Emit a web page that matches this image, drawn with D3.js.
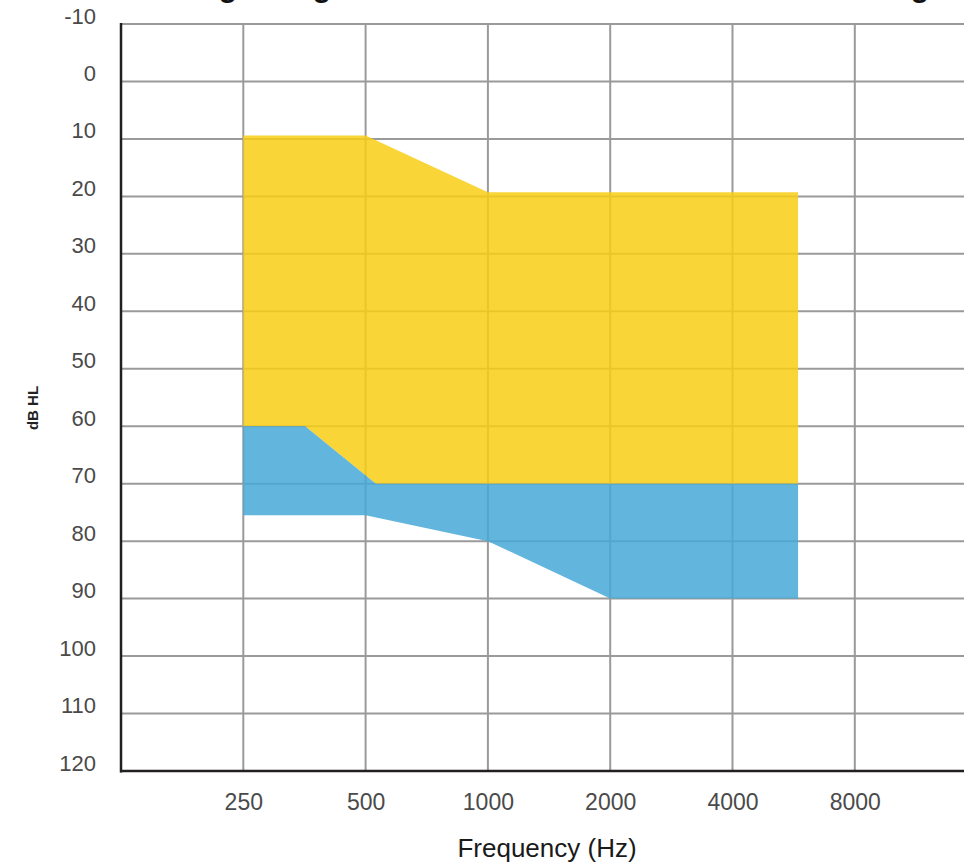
<!DOCTYPE html>
<html>
<head>
<meta charset="utf-8">
<script src="https://cdn.jsdelivr.net/npm/d3@7"></script>
<style>
  html, body { margin: 0; padding: 0; background: #fff; overflow: hidden; }
  svg { display: block; }
</style>
</head>
<body>
<script>
// ---- Data ----
const freqTicks = [250, 500, 1000, 2000, 4000, 8000];
const freqLabels = ["250", "500", "1000", "2000", "4000", "8000"];
const dbTicks = [-10, 0, 10, 20, 30, 40, 50, 60, 70, 80, 90, 100, 110, 120];
const dbLabels = ["-10", "0", "10", "20", "30", "40", "50", "60", "70", "80", "90", "100", "110", "120"];

// Yellow range: upper boundary (freq, dB) and lower boundary
const yellowTop = [[250, 9.4], [500, 9.4], [1000, 19.3], [5800, 19.3]];
const yellowBottom = [[5800, 70], [530, 70], [355, 60], [250, 60]];
// Blue range
const blueTop = [[250, 60], [355, 60], [530, 70], [5800, 70]];
const blueBottom = [[5800, 90], [2000, 90], [1000, 80], [500, 75.5], [250, 75.5]];

const titleText = "Fitting range for moderate to severe hearing loss";
const xTitle = "Frequency (Hz)";
const yTitle = "dB HL";

// ---- Layout ----
const W = 964, H = 866;
const svg = d3.select("body").append("svg").attr("width", W).attr("height", H);

const x = d3.scaleLog().base(2).domain([125, 16000]).range([121, 121 + 7 * 122.3]);
const y = d3.scaleLinear().domain([-10, 120]).range([24, 771]);

const yellowFill = "#f8ce15", blueFill = "#46a8d6";
const area = pts => d3.line().x(d => x(d[0])).y(d => y(d[1]))(pts) + "Z";

// grid (under the semi-transparent fills)
const grid = svg.append("g");
grid.selectAll("line.h").data(dbTicks).join("line")
  .attr("x1", 121).attr("x2", W)
  .attr("y1", d => y(d)).attr("y2", d => y(d))
  .attr("stroke", "#9a9a9a").attr("stroke-width", 2);
grid.selectAll("line.v").data(freqTicks).join("line")
  .attr("x1", d => x(d)).attr("x2", d => x(d))
  .attr("y1", y(-10)).attr("y2", y(120))
  .attr("stroke", "#9a9a9a").attr("stroke-width", 2);

// fills
svg.append("path").attr("d", area(yellowTop.concat(yellowBottom)))
  .attr("fill", yellowFill).attr("fill-opacity", 0.85);
svg.append("path").attr("d", area(blueTop.concat(blueBottom)))
  .attr("fill", blueFill).attr("fill-opacity", 0.85);

// axes
const yAxis = d3.axisLeft(y).tickValues(dbTicks).tickFormat((d, i) => dbLabels[i]).tickSize(0).tickPadding(0);
const gy = svg.append("g").attr("transform", "translate(121,0)").call(yAxis);
gy.select(".domain").remove();
gy.selectAll("text")
  .attr("x", -25)
  .attr("font-family", "Liberation Sans, Arial, sans-serif")
  .attr("font-size", 22).attr("fill", "#4a4a4a")
  .attr("transform", "translate(0,-8)");

const xAxis = d3.axisBottom(x).tickValues(freqTicks).tickFormat((d, i) => freqLabels[i]).tickSize(0).tickPadding(0);
const gx = svg.append("g").attr("transform", "translate(0,771)").call(xAxis);
gx.select(".domain").remove();
gx.selectAll("text")
  .attr("y", 23)
  .attr("font-family", "Liberation Sans, Arial, sans-serif")
  .attr("font-size", 23).attr("fill", "#4a4a4a");

// axis lines
svg.append("line").attr("x1", 121).attr("x2", 121).attr("y1", y(-10) - 1).attr("y2", y(120) + 1.5)
  .attr("stroke", "#231f20").attr("stroke-width", 2.5);
svg.append("line").attr("x1", 120).attr("x2", W).attr("y1", y(120)).attr("y2", y(120))
  .attr("stroke", "#231f20").attr("stroke-width", 2.5);

// axis titles
svg.append("text").attr("x", 547).attr("y", 857).attr("text-anchor", "middle")
  .attr("font-family", "Liberation Sans, Arial, sans-serif").attr("font-size", 26)
  .attr("fill", "#1a1a1a").text(xTitle);
svg.append("text").attr("transform", "translate(38,408) rotate(-90)").attr("text-anchor", "middle")
  .attr("font-family", "Liberation Sans, Arial, sans-serif").attr("font-size", 15).attr("font-weight", "bold")
  .attr("fill", "#222").text(yTitle);

// title (mostly above the visible area, as in the reference)
const t = svg.append("text").attr("y", -3)
  .attr("font-family", "Liberation Sans, Arial, sans-serif").attr("font-size", 30).attr("font-weight", "bold")
  .attr("fill", "#111").text(titleText);
const gIdx = [];
for (let i = 0; i < titleText.length; i++) if (titleText[i] === "g") gIdx.push(i);
const node = t.node();
const centerOf = i => { const e = node.getExtentOfChar(i); return e.x + e.width / 2; };
const c0 = centerOf(gIdx[0]), cL = centerOf(gIdx[gIdx.length - 1]);
const ls = ((922 - 230) - (cL - c0)) / (gIdx[gIdx.length - 1] - gIdx[0]);
t.attr("letter-spacing", ls);
const c0b = centerOf(gIdx[0]);
t.attr("x", 230 - c0b);
</script>
</body>
</html>
